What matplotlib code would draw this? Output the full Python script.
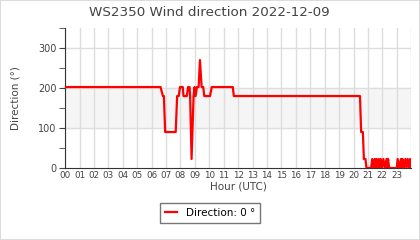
import matplotlib.pyplot as plt
from matplotlib.patches import Rectangle

# wind direction readings (hour of day, degrees)
hours = [0.0, 6.62, 6.78, 6.85, 6.94, 7.67, 7.77, 7.88, 7.97, 8.16, 8.21,
         8.44, 8.53, 8.63, 8.67, 8.77, 8.91, 8.98, 9.05, 9.14, 9.26, 9.35,
         9.47, 9.58, 9.65, 10.05, 10.17, 11.63, 11.7, 20.45, 20.53, 20.65,
         20.72, 20.83, 20.9, 21.22, 21.3, 21.38, 21.47, 21.54, 21.6, 21.68,
         21.75, 21.82, 21.89, 21.98, 22.07, 22.18, 22.29, 22.35, 22.4, 22.47,
         23.0, 23.06, 23.17, 23.29, 23.35, 23.4, 23.5, 23.6, 23.68, 23.76,
         23.86, 23.93, 23.98]
direction = [202.5, 202.5, 180, 180, 90, 90, 180, 180, 202.5, 202.5, 180,
             180, 202.5, 202.5, 180, 22.5, 180, 202.5, 180, 202.5, 202.5, 270,
             202.5, 202.5, 180, 180, 202.5, 202.5, 180, 180, 90, 90,
             22.5, 22.5, 0, 0, 22.5, 0, 22.5, 0, 22.5, 0,
             22.5, 0, 22.5, 0, 22.5, 0, 22.5, 0, 22.5, 0,
             0, 22.5, 0, 22.5, 0, 22.5, 0, 22.5, 0, 22.5,
             0, 22.5, 0]

hour_labels = ["%02d" % h for h in range(24)]

fig = plt.figure(figsize=(4.2, 2.4), dpi=100)
ax = fig.add_axes([0.155, 0.30, 0.824, 0.583])

# figure border
fig.patches.append(Rectangle((0, 0), 1, 1, transform=fig.transFigure,
                             fill=False, edgecolor="#d5d5d5", linewidth=1.2))

ax.axhspan(100, 200, color="#f5f5f5", zorder=0)
for h in range(25):
    ax.axvline(h, color="#dddddd", linewidth=1, zorder=1)
for v in [100, 200, 300]:
    ax.axhline(v, color="#dddddd", linewidth=1, zorder=1)

ax.plot(hours, direction, color="#ff0000", linewidth=1.6, zorder=3,
        label="Direction: %d °" % direction[-1])

ax.set_xlim(0, 24)
ax.set_ylim(0, 350)
ax.set_xticks(range(24))
ax.set_xticklabels(hour_labels, fontsize=6.3, color="#444444")
ax.set_yticks([0, 100, 200, 300])
ax.set_yticks([50, 150, 250, 350], minor=True)
ax.tick_params(axis="x", length=0, pad=2)
ax.tick_params(axis="y", which="both", length=4, color="#444444",
               labelsize=7, labelcolor="#444444", pad=2)

for s in ["top", "right"]:
    ax.spines[s].set_visible(False)
for s in ["left", "bottom"]:
    ax.spines[s].set_color("#333333")

ax.set_xlabel("Hour (UTC)", fontsize=7.5, color="#444444", labelpad=1)
ax.set_ylabel("Direction (°)", fontsize=7.5, color="#444444")
ax.yaxis.set_label_coords(-0.13, 0.5)
fig.text(0.498, 0.95, "WS2350 Wind direction 2022-12-09", fontsize=9.7,
         color="#444444", ha="center", va="center")

leg = fig.legend(loc="center", bbox_to_anchor=(0.5, 0.112), fontsize=7.5,
                 handlelength=1.2, fancybox=False, edgecolor="#777777",
                 framealpha=1, borderpad=0.5)
leg.get_frame().set_linewidth(1)

fig.savefig("out.png", dpi=100)
